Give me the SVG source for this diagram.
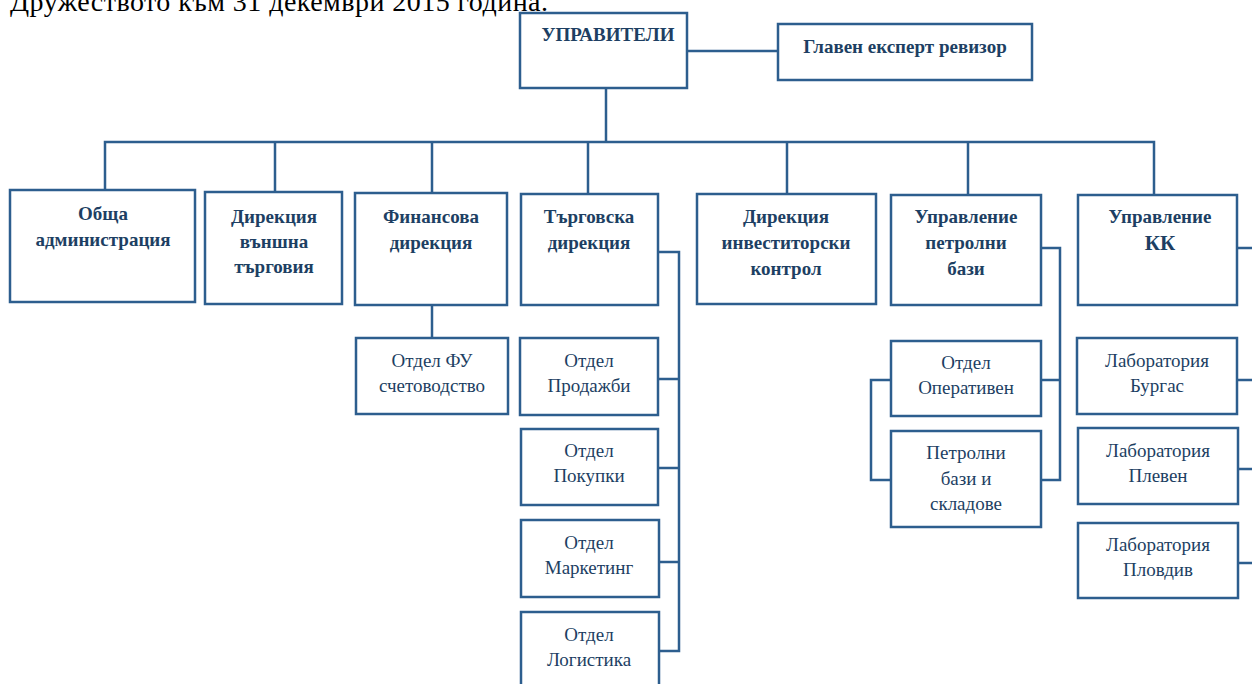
<svg xmlns="http://www.w3.org/2000/svg" width="1252" height="684" viewBox="0 0 1252 684">
<style>
.box{fill:#fff;stroke:#2d5e8e;stroke-width:2.5}
.ln{fill:none;stroke:#2d5e8e;stroke-width:2.5}
.b{font-family:"Liberation Serif","DejaVu Serif",serif;font-weight:bold;font-size:19px;fill:#1d3f63;text-anchor:middle}
.r{font-family:"Liberation Serif","DejaVu Serif",serif;font-size:19px;fill:#1d3f63;text-anchor:middle}
.hdr{font-family:"Liberation Serif","DejaVu Serif",serif;font-size:28px;fill:#000}
</style>
<rect width="1252" height="684" fill="#fff"/>
<text class="hdr" x="10" y="11" textLength="538">Дружеството към 31 декември 2015 година.</text>
<g id="connectors">
<path class="ln" d="M686 51H778"/>
<path class="ln" d="M606 88V142"/>
<path class="ln" d="M105 190V142H1154V195"/>
<path class="ln" d="M275 142V192M432 142V193M588 142V194M787 142V194M968 142V195"/>
<path class="ln" d="M432 305V338"/>
<path class="ln" d="M658 252H679V651H658M658 379H679M658 468H679M658 562H679"/>
<path class="ln" d="M1041 248H1060V480H1041M1041 380H1060"/>
<path class="ln" d="M891 380H871V480H891"/>
<path class="ln" d="M1237 248H1252M1237 380H1252M1237 469H1252M1237 563H1252"/>
</g>
<g id="upraviteli"><rect class="box" x="520" y="13" width="167" height="75"/><text class="b" x="608" y="41">УПРАВИТЕЛИ</text></g>
<g id="glaven"><rect class="box" x="778" y="24" width="254" height="56"/><text class="b" x="905" y="53">Главен експерт ревизор</text></g>
<g id="obshta"><rect class="box" x="10" y="190" width="185" height="112"/><text class="b" x="103" y="220">Обща</text><text class="b" x="103" y="246">администрация</text></g>
<g id="vanshna"><rect class="box" x="205" y="192" width="137" height="112"/><text class="b" x="274" y="223">Дирекция</text><text class="b" x="274" y="248">външна</text><text class="b" x="274" y="273">търговия</text></g>
<g id="finansova"><rect class="box" x="355" y="193" width="152" height="112"/><text class="b" x="431" y="223">Финансова</text><text class="b" x="431" y="249">дирекция</text></g>
<g id="targovska"><rect class="box" x="521" y="194" width="137" height="111"/><text class="b" x="589" y="223">Търговска</text><text class="b" x="589" y="249">дирекция</text></g>
<g id="investitorski"><rect class="box" x="697" y="194" width="179" height="110"/><text class="b" x="786" y="223">Дирекция</text><text class="b" x="786" y="249">инвеститорски</text><text class="b" x="786" y="275">контрол</text></g>
<g id="petrolni"><rect class="box" x="891" y="195" width="150" height="110"/><text class="b" x="966" y="223">Управление</text><text class="b" x="966" y="249">петролни</text><text class="b" x="966" y="275">бази</text></g>
<g id="kk"><rect class="box" x="1078" y="195" width="159" height="110"/><text class="b" x="1160" y="223">Управление</text><text class="b" x="1160" y="250" style="font-size:21px">КК</text></g>
<g id="fu"><rect class="box" x="356" y="338" width="152" height="76"/><text class="r" x="432" y="367">Отдел ФУ</text><text class="r" x="432" y="392">счетоводство</text></g>
<g id="prodazhbi"><rect class="box" x="520" y="338" width="138" height="77"/><text class="r" x="589" y="367">Отдел</text><text class="r" x="589" y="392">Продажби</text></g>
<g id="pokupki"><rect class="box" x="521" y="429" width="137" height="76"/><text class="r" x="589" y="457">Отдел</text><text class="r" x="589" y="482">Покупки</text></g>
<g id="marketing"><rect class="box" x="521" y="520" width="138" height="77"/><text class="r" x="589" y="549">Отдел</text><text class="r" x="589" y="574">Маркетинг</text></g>
<g id="logistika"><rect class="box" x="521" y="612" width="138" height="90"/><text class="r" x="589" y="641">Отдел</text><text class="r" x="589" y="666">Логистика</text></g>
<g id="operativen"><rect class="box" x="891" y="341" width="150" height="75"/><text class="r" x="966" y="369">Отдел</text><text class="r" x="966" y="394">Оперативен</text></g>
<g id="bazi"><rect class="box" x="891" y="431" width="150" height="96"/><text class="r" x="966" y="459">Петролни</text><text class="r" x="966" y="485">бази и</text><text class="r" x="966" y="510">складове</text></g>
<g id="burgas"><rect class="box" x="1077" y="338" width="160" height="76"/><text class="r" x="1157" y="367">Лаборатория</text><text class="r" x="1157" y="392">Бургас</text></g>
<g id="pleven"><rect class="box" x="1078" y="428" width="160" height="76"/><text class="r" x="1158" y="457">Лаборатория</text><text class="r" x="1158" y="482">Плевен</text></g>
<g id="plovdiv"><rect class="box" x="1078" y="523" width="160" height="75"/><text class="r" x="1158" y="551">Лаборатория</text><text class="r" x="1158" y="576">Пловдив</text></g>
</svg>
